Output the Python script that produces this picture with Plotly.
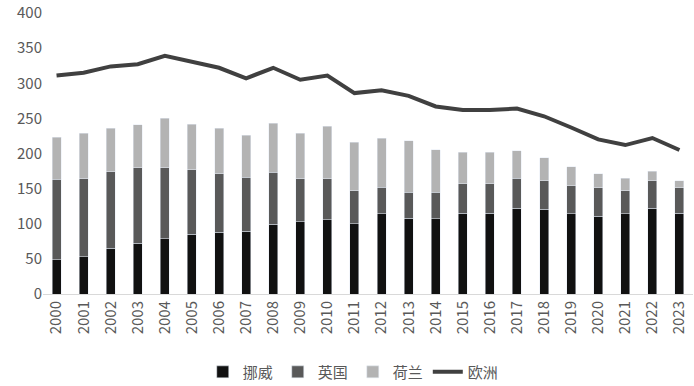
import plotly.graph_objects as go

years = [str(y) for y in range(2000, 2024)]
norway = [49, 53, 65, 72, 79, 85, 88, 89, 99, 103, 106, 100, 114, 108, 107, 115, 115, 122, 121, 114, 111, 114, 122, 115]
uk_top = [163, 164, 174, 180, 180, 177, 171, 166, 173, 164, 164, 147, 152, 145, 145, 157, 157, 165, 161, 154, 151, 147, 161, 151]
total = [223, 229, 236, 241, 250, 242, 236, 226, 243, 229, 239, 216, 222, 218, 205, 202, 202, 204, 194, 181, 171, 165, 175, 161]
europe = [311, 315, 324, 327, 339, 330, 322, 307, 322, 305, 311, 286, 290, 282, 267, 262, 262, 264, 253, 237, 220, 212, 222, 205]

uk = [u - n for u, n in zip(uk_top, norway)]
nl = [t - u for t, u in zip(total, uk_top)]

font = "Noto Sans CJK SC"
fig = go.Figure()
fig.add_bar(x=years, y=norway, name="挪威", marker_color="#111111")
fig.add_bar(x=years, y=uk, name="英国", marker_color="#595959")
fig.add_bar(x=years, y=nl, name="荷兰", marker_color="#b3b3b3")
fig.add_scatter(x=years, y=europe, name="欧洲", mode="lines",
                line=dict(color="#404040", width=4))

fig.update_layout(
    barmode="stack",
    bargap=0.67,
    width=694, height=386,
    margin=dict(l=43, r=1, t=13, b=92),
    plot_bgcolor="white", paper_bgcolor="white",
    font=dict(family=font, size=15, color="#595959"),
    legend=dict(orientation="h", x=0.509, xanchor="center", xref="container",
                y=0.036, yanchor="middle", yref="container",
                font=dict(size=15, color="#595959"), traceorder="normal",
                itemwidth=30),
    showlegend=True,
)
fig.update_xaxes(tickangle=-90, showline=True, linecolor="#d9d9d9", linewidth=1,
                 ticks="", automargin=False, tickfont=dict(size=15, color="#595959"))
fig.update_yaxes(range=[0, 400], dtick=50, showgrid=False, zeroline=False,
                 ticks="", automargin=False, ticklabeloverflow="allow",
                 tickfont=dict(size=15, color="#595959"))

fig.write_html("out.html", config={"displayModeBar": False},
               post_script="document.body.style.margin='0';")
